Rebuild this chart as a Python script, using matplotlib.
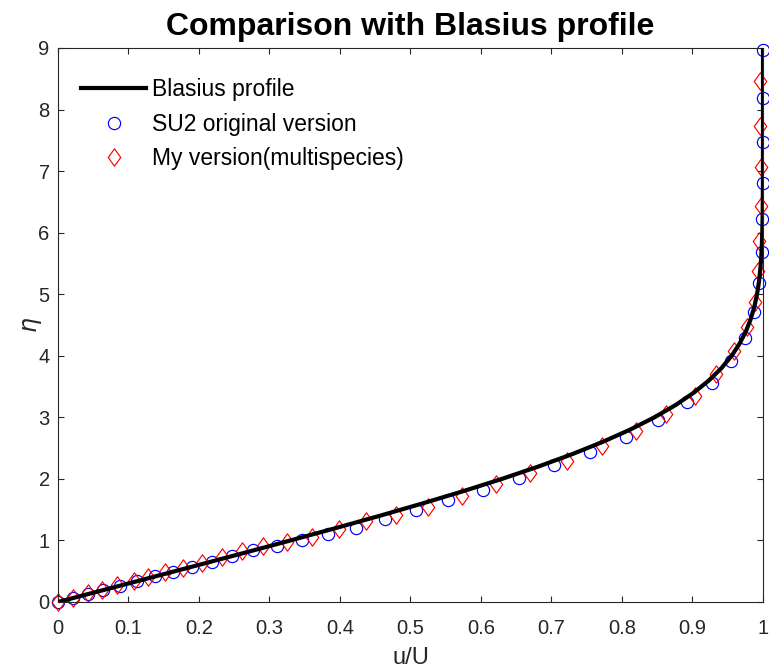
import matplotlib.pyplot as plt
from matplotlib.path import Path
import numpy as np

# Blasius similarity solution, f'(eta) tabulated
blasius_eta = [0.0, 0.2, 0.4, 0.6, 0.8, 1.0, 1.2, 1.4, 1.6, 1.8, 2.0,
               2.2, 2.4, 2.6, 2.8, 3.0, 3.2, 3.4, 3.6, 3.8, 4.0,
               4.2, 4.4, 4.6, 4.8, 5.0, 5.2, 5.4, 5.6, 5.8, 6.0,
               6.2, 6.4, 6.6, 6.8, 7.0, 7.2, 7.4, 7.6, 7.8, 8.0,
               8.5, 9.0]
blasius_u = [0.0, 0.06641, 0.13277, 0.19894, 0.26471, 0.32979, 0.39378,
             0.45627, 0.51676, 0.57477, 0.62977, 0.68132, 0.72899,
             0.77246, 0.81152, 0.84605, 0.87609, 0.90177, 0.92333,
             0.94112, 0.95552, 0.96696, 0.97587, 0.98269, 0.98779,
             0.99155, 0.99425, 0.99616, 0.99748, 0.99838, 0.99898,
             0.99937, 0.99961, 0.99977, 0.99987, 0.99992, 0.99996,
             0.99998, 0.99999, 1.0, 1.0, 1.0, 1.0]

# SU2 original version
su2_u = [0.0, 0.021, 0.043, 0.064, 0.088, 0.112, 0.138, 0.163, 0.190,
         0.218, 0.247, 0.277, 0.310, 0.346, 0.383, 0.423, 0.464, 0.508,
         0.553, 0.603, 0.654, 0.704, 0.755, 0.806, 0.851, 0.892, 0.928,
         0.955, 0.975, 0.987, 0.995, 0.998, 0.999, 0.9995, 0.9998,
         0.9999, 1.0]
su2_eta = [0.0, 0.065, 0.13, 0.195, 0.265, 0.34, 0.415, 0.49, 0.57,
           0.65, 0.74, 0.84, 0.91, 1.01, 1.10, 1.21, 1.35, 1.49,
           1.66, 1.82, 2.01, 2.22, 2.44, 2.68, 2.95, 3.25, 3.56,
           3.91, 4.29, 4.71, 5.18, 5.68, 6.22, 6.80, 7.47,
           8.18, 8.96]

# multispecies version
my_u = [0.0, 0.021, 0.043, 0.062, 0.084, 0.108, 0.128, 0.152, 0.177,
        0.204, 0.233, 0.261, 0.291, 0.325, 0.360, 0.398, 0.437, 0.479,
        0.525, 0.573, 0.621, 0.670, 0.722, 0.771, 0.820, 0.863, 0.904,
        0.934, 0.959, 0.977, 0.989, 0.993, 0.995, 0.997, 0.997, 0.996,
        0.996]
my_eta = [0.0, 0.07, 0.14, 0.20, 0.27, 0.34, 0.41, 0.48, 0.55,
          0.63, 0.73, 0.83, 0.91, 0.98, 1.06, 1.18, 1.31, 1.42,
          1.55, 1.72, 1.92, 2.09, 2.29, 2.54, 2.78, 3.05, 3.35,
          3.70, 4.08, 4.47, 4.87, 5.37, 5.87, 6.44, 7.07, 7.74,
          8.46]

plt.rcParams["font.family"] = ["Liberation Sans", "DejaVu Sans"]
axis_color = "#262626"

# diamond a bit wider than matplotlib's thin_diamond
diamond = Path([(0, 1), (0.72, 0), (0, -1), (-0.72, 0), (0, 1)],
               [Path.MOVETO, Path.LINETO, Path.LINETO, Path.LINETO,
                Path.CLOSEPOLY])

fig = plt.figure(figsize=(7.69, 6.70), dpi=100)
ax = fig.add_axes([0.0754, 0.1015, 0.9168, 0.8269])

ax.plot(su2_u, su2_eta, linestyle="none", marker="o",
        markersize=8.8, markerfacecolor="none",
        markeredgecolor="blue", markeredgewidth=0.85,
        label="SU2 original version", zorder=2, clip_on=False)
ax.plot(my_u, my_eta, linestyle="none", marker=diamond,
        markersize=12.5, markerfacecolor="none",
        markeredgecolor="red", markeredgewidth=0.85,
        label="My version(multispecies)", zorder=2, clip_on=False)
ax.plot(blasius_u, blasius_eta, color="black", linewidth=3,
        label="Blasius profile", zorder=3)

ax.set_xlim(0, 1)
ax.set_ylim(0, 9)
ax.set_xticks(np.arange(0, 1.01, 0.1))
ax.set_xticklabels(["0", "0.1", "0.2", "0.3", "0.4", "0.5",
                    "0.6", "0.7", "0.8", "0.9", "1"])
ax.set_yticks(range(0, 10))

ax.tick_params(direction="in", length=4, width=0.8,
               top=True, right=True, labelsize=14.5,
               colors=axis_color)
ax.tick_params(axis="x", pad=12)
ax.tick_params(axis="y", pad=6)
for spine in ax.spines.values():
    spine.set_color(axis_color)
    spine.set_linewidth(0.8)

ax.set_xlabel("u/U", fontsize=17, color=axis_color, labelpad=7)
ax.set_ylabel(r"$\eta$", fontsize=17, color=axis_color, labelpad=-4)
ax.set_title("Comparison with Blasius profile", fontsize=23,
             fontweight="bold", pad=9)

handles, labels = ax.get_legend_handles_labels()
order = [2, 0, 1]
ax.legend([handles[i] for i in order], [labels[i] for i in order],
          loc="upper left", bbox_to_anchor=(0.0, 0.987),
          frameon=False, fontsize=16.5,
          handlelength=2.85, handletextpad=0.25, borderaxespad=0.6,
          labelspacing=0.5)

plt.savefig("out.png", dpi=100)
plt.close()
